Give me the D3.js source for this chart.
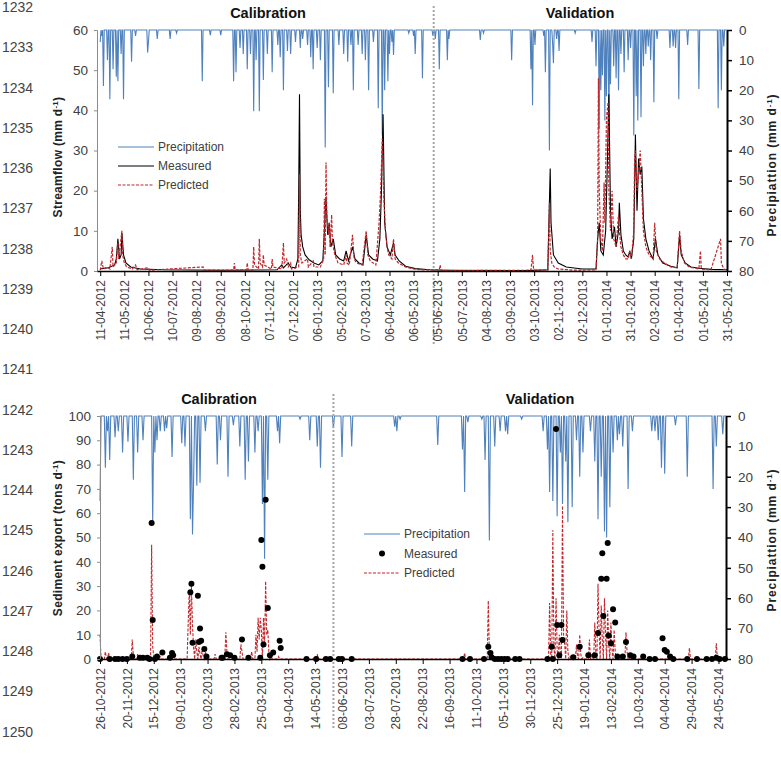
<!DOCTYPE html>
<html><head><meta charset="utf-8">
<script src="https://cdn.jsdelivr.net/npm/d3@7"></script>
<style>
body{margin:0;background:#fff}
svg{display:block}
text{font-family:"Liberation Sans",Arial,sans-serif}
</style>
</head><body>
<svg id="c" width="781" height="758"></svg>
<script>
// ---------------- DATA ----------------
const lineNumbers = ["1232","1233","1234","1235","1236","1237","1238","1239","1240","1241","1242","1243","1244","1245","1246","1247","1248","1249","1250"];

// Top panel (streamflow), day offsets from 11-04-2012
const topTickLabels = ["11-04-2012","11-05-2012","10-06-2012","10-07-2012","09-08-2012","08-09-2012","08-10-2012","07-11-2012","07-12-2012","06-01-2013","05-02-2013","07-03-2013","06-04-2013","06-05-2013","05-06-2013","05-07-2013","04-08-2013","03-09-2013","03-10-2013","02-11-2013","02-12-2013","01-01-2014","31-01-2014","02-03-2014","01-04-2014","01-05-2014","31-05-2014"];
const flowTicks = [0,10,20,30,40,50,60];
const precipTicks = [0,10,20,30,40,50,60,70,80];

const topPrecip = [[0,4],[2,2],[4,18.6],[9,10],[12,23],[16,13],[20,15.5],[22,17],[26,8],[29,23],[39,10.5],[44,2],[59,7.5],[60,4],[71,3],[87,3],[95,1],[127,17],[137,1.7],[150,1.7],[166,17],[169,14],[174,6],[178,8],[183,13],[187,8],[191,27],[194,10],[198,27],[203,16.6],[208,8],[214,14],[221,5],[224,9],[228,20],[233,7],[237,8],[243,4],[249,6],[252,3],[258,5],[262,9],[265,13],[270,6],[274,10],[280,39],[284,19],[290,21],[297,5],[303,8],[308,10.5],[312,5],[315,20],[321,5],[326,8],[330,10],[334,20],[340,4],[346,26],[351,35],[354,20],[358,17],[360,8],[363,4],[365,8.3],[384,1],[390,2],[392,8],[401,16],[414,2],[417,3],[422,13],[432,10],[434,3],[473,3.3],[477,1],[512,10],[536,13],[538,25],[541,5],[552,2],[554,14],[559,40],[563,4.5],[564,11],[568,3],[571,7],[591,1],[612,4],[617,12],[621,33],[623,20],[625,15],[628,30],[630,22],[633,32],[635,18],[639,12],[642,16],[645,20],[648,8],[652,14],[657,10],[660,6],[664,35],[667,22],[669,30],[673,29],[676,12],[679,8],[682,5.5],[685,10],[689,24],[693,3],[709,6],[713,5.5],[716,6],[720,23],[731,5],[745,19.6],[769,26],[773,20],[776,5.5]];

const flowMeasured = [[0,0.5],[10,0.8],[18,1.5],[20,3],[22,8],[24,3],[26,4],[27,9.5],[29,4],[32,2],[38,1],[50,0.5],[80,0.3],[150,0.2],[220,0.3],[226,1.5],[228,0.8],[234,2],[237,1],[243,0.8],[246,3],[247,20],[248,44],[249,15],[250,9],[252,6],[255,4],[260,2.8],[266,2],[272,1.5],[277,2.5],[279,10],[281,18.5],[283,9],[285,12],[287,6],[290,8],[293,4],[298,3],[303,2.5],[306,5],[309,2.5],[314,6],[317,3],[322,2],[327,1.5],[331,9],[334,4],[339,3],[345,2.5],[348,8],[350,20],[352,39],[354,12],[357,6],[361,4],[365,7],[367,4],[372,2.5],[380,1.2],[392,0.6],[410,0.3],[430,0.2],[530,0.1],[557,0.3],[560,25.5],[561,12],[564,4],[570,2],[580,1],[600,0.5],[617,0.5],[619,8],[621,12],[623,5],[626,4],[629,10],[631,26],[633,44],[635,15],[637,8],[640,11],[642,6],[645,10],[646,17],[648,9],[651,5],[654,4],[657,3.5],[659,5],[661,3],[664,8],[666,34],[668,15],[670,28],[672,24],[674,26],[676,13],[679,8],[683,5],[688,3],[691,8],[694,4],[700,2],[710,1.2],[718,0.8],[721,9],[723,4],[728,2],[735,1],[745,0.7],[760,0.4],[780,0.3]];

const flowPredicted = [[0,0.2],[2,2.5],[4,0.5],[8,1],[12,0.5],[15,6],[16,1],[20,2],[22,7],[23,3],[27,10],[28,4],[30,2],[33,1],[40,0.5],[44,1.5],[46,0.3],[60,0.8],[61,0.2],[128,1],[129,0.2],[166,0.2],[167,2],[168,0.3],[182,0.3],[183,2],[184,0.3],[190,0.2],[191,6],[192,1.5],[197,0.5],[198,8],[199,2],[202,1],[203,4],[204,1.5],[213,0.5],[214,3],[215,1],[226,0.5],[228,7],[229,2],[232,3],[234,1],[237,2],[238,0.5],[247,1],[248,24],[249,4],[251,2],[258,3],[259,1],[265,2.5],[266,1],[274,1],[278,3],[279,18],[280,4],[281,27],[282,14],[284,9],[285,12],[286,6],[288,14],[289,7],[292,4],[296,2],[303,1.5],[306,4],[307,2],[310,1.5],[314,9],[316,3],[319,2],[326,1.5],[331,10],[333,4],[336,2.5],[343,1.5],[347,12],[349,20],[351,33],[353,18],[355,10],[357,6],[359,4],[363,3],[365,8],[367,3],[371,2],[380,1],[390,0.5],[400,0.3],[422,0.3],[423,1.5],[424,0.2],[440,0.1],[536,0.2],[538,4],[539,1],[540,0.2],[557,0.2],[559,17],[560,5],[562,2],[565,1],[570,0.5],[590,0.2],[617,0.3],[619,8],[620,48],[621,20],[623,8],[625,5],[627,22],[628,12],[630,38],[632,42],[633,20],[635,10],[637,20],[639,8],[642,6],[645,14],[646,10],[648,6],[651,4],[654,3],[657,3],[659,5],[661,3],[664,10],[665,28],[666,30],[668,20],[670,24],[672,30],[674,20],[676,10],[679,6],[683,4],[688,3],[690,12],[692,5],[696,3],[702,2],[710,1],[718,0.8],[721,10],[723,5],[727,2],[733,1],[745,0.5],[747,5],[748,0.5],[760,0.3],[772,8],[773,2],[776,0.5],[780,0.3]];

// Bottom panel (sediment), day offsets from 26-10-2012
const botTickLabels = ["26-10-2012","20-11-2012","15-12-2012","09-01-2013","03-02-2013","28-02-2013","25-03-2013","19-04-2013","14-05-2013","08-06-2013","03-07-2013","28-07-2013","22-08-2013","16-09-2013","11-10-2013","05-11-2013","30-11-2013","25-12-2013","19-01-2014","13-02-2014","10-03-2014","04-04-2014","29-04-2014","24-05-2014"];
const sedTicks = [0,10,20,30,40,50,60,70,80,90,100];

const botPrecip = [[0,28],[5,17],[7,5],[9,14.5],[14,7],[17,5],[21,12],[26,8.5],[31,21],[35,12],[40,8],[49,35],[51,12],[53,8],[56,5],[60,5],[62,4],[67,13.5],[76,9],[79,10],[84,34],[86,39],[87,22],[90,23],[93,22],[98,5],[109,16],[112,8],[119,20],[124,3],[130,10],[135,21],[138,15],[144,12],[147,5],[151,29],[153,47],[156,21],[165,5],[167,9],[186,1],[195,8],[202,10],[205,17],[217,4],[225,13.5],[234,10],[274,3.5],[276,5],[279,1],[314,9.5],[337,11],[339,25],[342,2],[355,1],[358,14.5],[362,41],[367,10],[372,5],[377,5],[379,6],[392,1],[412,5],[416,11],[418,25],[421,28],[425,33],[428,12],[430,29],[433,15],[435,35],[439,30],[443,8],[446,20],[449,12],[456,5],[460,15],[463,34],[466,20],[469,38],[471,40],[474,30],[477,12],[481,8],[483,6],[486,10],[491,24],[495,5],[513,5],[516,5],[519,8],[522,17],[525,19],[535,3],[546,20],[570,24],[573,10],[579,6]];

const sedMeasured = [[0,0],[9,0],[14,0],[17,0],[21,0],[25,0],[30,1],[37,0.5],[40,0.5],[44,0.5],[46,0],[48,56],[49,16],[51,0],[53,1],[58,2.7],[65,0.5],[67,2.5],[68,1.5],[84,27.5],[85,31],[86,6.7],[91,26],[92,7],[93,12.6],[94,7.5],[97,4.1],[99,1],[113,0.5],[114,0.5],[118,2],[121,1.5],[125,0.5],[132,8],[138,0.5],[149,0.5],[150,49],[151,38],[152,6],[154,65.5],[156,21],[158,1.5],[161,2.7],[167,7.5],[168,4.5],[192,0],[201,0],[210,0],[214,0],[222,0],[225,0],[234,0],[337,0],[344,0],[357,0],[361,5],[363,2.5],[364,0.7],[367,0],[370,0],[373,0],[376,0],[379,0],[386,0],[390,0],[416,0],[420,5],[421,0],[424,94.6],[425,14],[427,1.5],[429,14],[430,7.8],[440,0.7],[446,5],[454,1.5],[460,1.5],[463,10.7],[466,33],[467,43.5],[468,17.7],[471,33],[472,47.7],[473,9.7],[475,6.5],[477,20.5],[479,15],[481,1],[486,1],[489,7],[493,1.5],[496,1],[505,1],[511,0],[516,0],[523,8.5],[525,3.7],[527,3],[530,1],[533,0],[546,0],[555,0],[564,0],[569,0],[573,0.5],[576,0],[581,0]];

// predicted sediment: days not listed are 0
const sedPredicted = [[0,10],[5,3],[8,2.5],[30,8],[31,1],[35,2],[48,47],[49,5],[50,1],[56,1],[82,15],[83,28],[84,10],[85,30],[86,14],[87,5],[89,8],[90,3],[92,5],[93,2],[95,4],[96,1],[98,3],[107,2],[117,11],[118,3],[131,6],[132,3],[141,3],[145,10],[146,3],[147,17],[148,8],[149,17],[150,12],[152,17],[153,5],[154,32],[155,10],[156,12],[157,3],[159,1],[166,1],[202,2],[339,2.5],[361,24],[362,2],[418,23],[419,2],[421,53],[422,5],[424,25],[425,4],[427,10],[428,2],[430,63],[431,10],[432,6],[434,20],[435,3],[437,1],[440,0.5],[443,6],[444,1],[446,10],[447,2],[449,0.5],[455,8],[457,2],[460,15],[461,3],[463,31],[464,12],[466,22],[467,8],[469,25],[470,10],[472,20],[473,6],[475,15],[476,4],[478,12],[479,3],[481,2],[483,1],[489,11],[490,3],[492,0.5],[548,4.5],[573,6.5]];

// ---------------- DRAWING ----------------
const parse = d3.utcParse("%d-%m-%Y");
const svg = d3.select("#c");
const BLUE = "#4F81BD", RED = "#C0262B", TXT = "#404040";

// line numbers
svg.append("g").selectAll("text").data(lineNumbers).join("text")
  .attr("x", 2).attr("y", (d,i) => 12 + i*40.25)
  .attr("font-size", 14).attr("fill", "#444").text(d => d);

function supTitle(g, x, y, main, ls) {
  const t = g.append("text").attr("transform", `translate(${x},${y}) rotate(-90)`)
    .attr("text-anchor", "middle").attr("font-size", 12).attr("font-weight", "bold")
    .attr("letter-spacing", ls).attr("fill", "#222");
  t.append("tspan").text(main);
  t.append("tspan").attr("dy", -4).attr("font-size", 8).text("-1");
  t.append("tspan").attr("dy", 4).text(")");
  return t;
}

// daily series from sparse [day, value] list (unlisted days = 0)
function dailyFill(list, nDays) {
  const m = new Map(list.map(p => [p[0], p[1]]));
  return d3.range(0, nDays + 1).map(d => [d, m.get(d) || 0]);
}

function panel(cfg) {
  const g = svg.append("g");
  const x = d3.scaleUtc().domain(cfg.xDomain).range([cfg.x0, cfg.x1]);
  const yL = d3.scaleLinear().domain([0, cfg.leftMax]).range([cfg.yB, cfg.yT]);
  const yP = d3.scaleLinear().domain([0, 80]).range([cfg.yT, cfg.yB]);
  const dayDate = d => d3.utcDay.offset(cfg.start, d);
  const nDays = d3.utcDay.count(cfg.start, cfg.xDomain[1]);

  // precipitation (daily; days without an entry are dry)
  g.append("path").datum(dailyFill(cfg.precip, nDays)).attr("fill", "none").attr("stroke", BLUE).attr("stroke-width", 1.1)
    .attr("d", d3.line().x(d => x(dayDate(d[0]))).y(d => yP(d[1])));

  // divider
  const dv = x(parse(cfg.divider));
  g.append("line").attr("x1", dv).attr("x2", dv).attr("y1", cfg.divTop).attr("y2", cfg.divBot)
    .attr("stroke", "#a6a6a6").attr("stroke-width", 2).attr("stroke-dasharray", "2,2");

  cfg.drawSeries(g, x, yL, dayDate, nDays);

  // left axis
  const la = g.append("g").attr("transform", `translate(${cfg.x0},0)`)
    .call(d3.axisLeft(yL).tickValues(cfg.leftTicks).tickSize(3).tickPadding(6));
  la.select(".domain").attr("stroke", "#8c8c8c");
  la.selectAll(".tick line").attr("stroke", "#8c8c8c");
  la.selectAll("text").attr("font-size", 13.5).attr("fill", TXT).attr("font-family", '"Liberation Sans",Arial,sans-serif');

  // right axis
  const ra = g.append("g").attr("transform", `translate(${cfg.x1},0)`)
    .call(d3.axisRight(yP).tickValues(precipTicks).tickSize(5).tickSizeOuter(0).tickPadding(7));
  ra.select(".domain").attr("stroke", "#000").attr("stroke-width", 2);
  ra.selectAll(".tick line").attr("stroke", "#000").attr("stroke-width", 1.5);
  ra.selectAll("text").attr("font-size", 13.5).attr("fill", TXT).attr("font-family", '"Liberation Sans",Arial,sans-serif');

  // bottom axis
  const ticks = cfg.tickLabels.map(parse);
  const ba = g.append("g").attr("transform", `translate(0,${cfg.yB})`)
    .call(d3.axisBottom(x).tickValues(ticks).tickSize(5).tickSizeOuter(0).tickFormat(d3.utcFormat("%d-%m-%Y")));
  ba.select(".domain").attr("stroke", "#000").attr("stroke-width", 1.5);
  ba.selectAll(".tick line").attr("stroke", "#000");
  ba.selectAll("text").attr("font-size", 12).attr("fill", TXT).attr("font-family", '"Liberation Sans",Arial,sans-serif')
    .attr("text-anchor", "end").attr("transform", "rotate(-90)").attr("x", -9).attr("y", 0).attr("dy", "0.35em");

  // titles
  g.append("text").attr("x", cfg.calX).attr("y", cfg.titleY).attr("text-anchor", "middle")
    .attr("font-size", 14.5).attr("font-weight", "bold").attr("fill", "#111").text("Calibration");
  g.append("text").attr("x", cfg.valX).attr("y", cfg.titleY).attr("text-anchor", "middle")
    .attr("font-size", 14.5).attr("font-weight", "bold").attr("fill", "#111").text("Validation");

  supTitle(g, 62, cfg.leftTitleY, cfg.leftTitle, 0.3);
  supTitle(g, 776, cfg.rightTitleY, "Precipiattion (mm d", 0.9);

  // legend
  const L = cfg.legend;
  const lg = g.append("g").attr("font-size", 12).attr("fill", TXT);
  lg.append("line").attr("x1", L.x).attr("x2", L.x + 36).attr("y1", L.y).attr("y2", L.y).attr("stroke", BLUE).attr("stroke-width", 1);
  lg.append("text").attr("x", L.x + 40).attr("y", L.y + 4).attr("fill", TXT).text("Precipitation");
  if (cfg.dotLegend) {
    lg.append("circle").attr("cx", L.x + 18).attr("cy", L.y + L.dy).attr("r", 3).attr("fill", "#000");
  } else {
    lg.append("line").attr("x1", L.x).attr("x2", L.x + 36).attr("y1", L.y + L.dy).attr("y2", L.y + L.dy).attr("stroke", "#000").attr("stroke-width", 1.2);
  }
  lg.append("text").attr("x", L.x + 40).attr("y", L.y + L.dy + 4).attr("fill", TXT).text("Measured");
  lg.append("line").attr("x1", L.x).attr("x2", L.x + 36).attr("y1", L.y + 2*L.dy).attr("y2", L.y + 2*L.dy).attr("stroke", RED).attr("stroke-width", 1.2).attr("stroke-dasharray", "3,1.5");
  lg.append("text").attr("x", L.x + 40).attr("y", L.y + 2*L.dy + 4).attr("fill", TXT).text("Predicted");
}

// Top panel
panel({
  start: parse("11-04-2012"),
  xDomain: [parse("07-04-2012"), parse("31-05-2014")],
  x0: 97, x1: 727, yT: 30, yB: 271, leftMax: 60, leftTicks: flowTicks,
  precip: topPrecip, tickLabels: topTickLabels, divider: "31-05-2013",
  divTop: 6, divBot: 345, titleY: 18, calX: 268, valX: 580,
  leftTitle: "Streamflow (mm d", leftTitleY: 157, rightTitleY: 165,
  legend: {x: 118, y: 147, dy: 19}, dotLegend: false,
  drawSeries: (g, x, y, dd) => {
    g.append("path").datum(flowMeasured).attr("fill", "none").attr("stroke", "#000").attr("stroke-width", 1.1)
      .attr("d", d3.line().x(d => x(dd(d[0]))).y(d => y(d[1])));
    g.append("path").datum(flowPredicted).attr("fill", "none").attr("stroke", RED).attr("stroke-width", 1.2)
      .attr("stroke-dasharray", "3,1.5")
      .attr("d", d3.line().x(d => x(dd(d[0]))).y(d => y(d[1])));
  }
});

// Bottom panel
panel({
  start: parse("26-10-2012"),
  xDomain: [parse("26-10-2012"), parse("31-05-2014")],
  x0: 100, x1: 726, yT: 416, yB: 659, leftMax: 100, leftTicks: sedTicks,
  precip: botPrecip, tickLabels: botTickLabels, divider: "31-05-2013",
  divTop: 394, divBot: 728, titleY: 404, calX: 219, valX: 540,
  leftTitle: "Sediment export (tons d", leftTitleY: 538, rightTitleY: 540,
  legend: {x: 364, y: 534, dy: 19.5}, dotLegend: true,
  drawSeries: (g, x, y, dd, nDays) => {
    g.append("path").datum(dailyFill(sedPredicted, nDays)).attr("fill", "none").attr("stroke", RED).attr("stroke-width", 1.1)
      .attr("stroke-dasharray", "3,1.5")
      .attr("d", d3.line().x(d => x(dd(d[0]))).y(d => y(d[1])));
    g.append("g").selectAll("circle").data(sedMeasured).join("circle")
      .attr("cx", d => x(dd(d[0]))).attr("cy", d => y(d[1])).attr("r", 3).attr("fill", "#000");
  }
});
</script>
</body></html>
